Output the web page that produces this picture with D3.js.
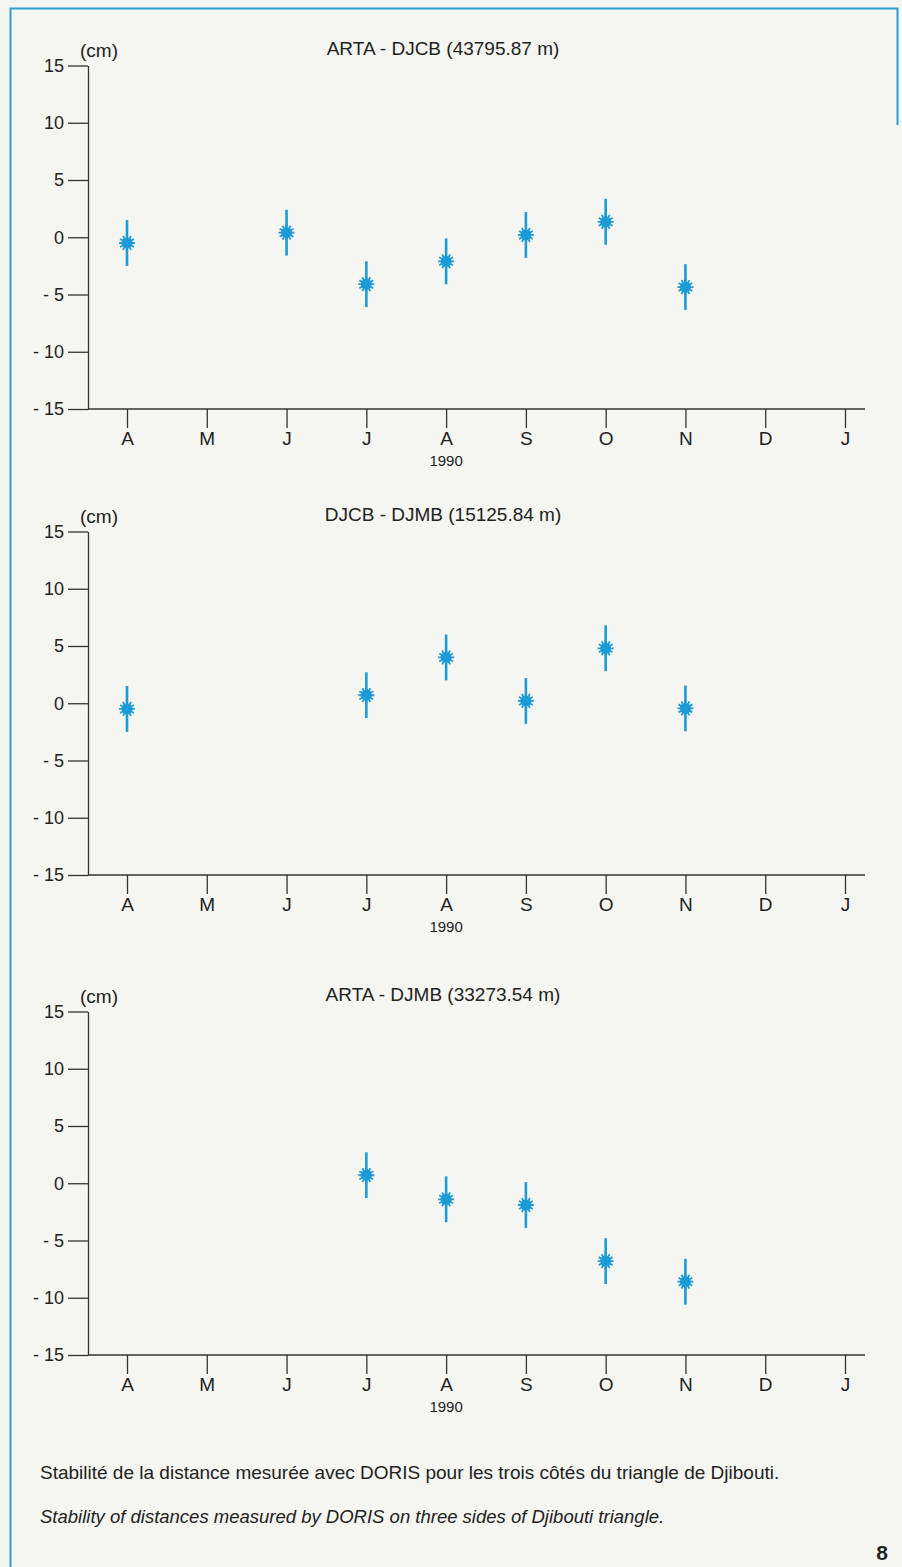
<!DOCTYPE html>
<html>
<head>
<meta charset="utf-8">
<script src="https://cdn.jsdelivr.net/npm/d3@7"></script>
<style>
  body { margin: 0; background: #f5f5f1; }
  svg { display: block; }
  text { font-family: "Liberation Sans", Arial, Helvetica, sans-serif; fill: #222; }
  .axis path, .axis line { stroke: #333; stroke-width: 1.3; }
</style>
</head>
<body>
<svg></svg>
<script>
// page size
let width = 902
let height = 1567

// month labels along the x axis
let months = ["A", "M", "J", "J", "A", "S", "O", "N", "D", "J"]
let yTicks = [15, 10, 5, 0, -5, -10, -15]

// panel titles
let titles = ["ARTA - DJCB (43795.87 m)", "DJCB - DJMB (15125.84 m)", "ARTA - DJMB (33273.54 m)"]

// ARTA - DJCB
let artaDjcbMonth = [0, 2, 3, 4, 5, 6, 7]
let artaDjcbValue = [-0.5, 0.4, -4.1, -2.1, 0.2, 1.35, -4.35]
let artaDjcbError = [2, 2, 2, 2, 2, 2, 2]

// DJCB - DJMB
let djcbDjmbMonth = [0, 3, 4, 5, 6, 7]
let djcbDjmbValue = [-0.5, 0.7, 4.0, 0.2, 4.8, -0.45]
let djcbDjmbError = [2, 2, 2, 2, 2, 2]

// ARTA - DJMB
let artaDjmbMonth = [3, 4, 5, 6, 7]
let artaDjmbValue = [0.7, -1.4, -1.9, -6.8, -8.6]
let artaDjmbError = [2, 2, 2, 2, 2]

let blue = "#1c9bd6"

// vertical placement of each panel (top = +15, bottom = -15)
let panelTops = [65.5, 531.5, 1011.5]
let panelHeight = 343.5

let svg = d3.select("svg")
	.attr("width", width)
	.attr("height", height)

// page frame (blue rule)
svg.append("path")
	.attr("d", "M10.5,1567 L10.5,8.5 L897.5,8.5 L897.5,125")
	.attr("fill", "none")
	.attr("stroke", "#2a9fd4")
	.attr("stroke-width", 2)

let xScale = d3.scaleLinear()
	.domain([0, months.length - 1])
	.range([127, 845])

// 12-spoke star marker
function starPath(r) {
	let p = ""
	for (let i = 0; i < 12; i++) {
		let a = i * Math.PI / 6
		p += `M0,0L${(r * Math.cos(a)).toFixed(2)},${(r * Math.sin(a)).toFixed(2)}`
	}
	return p
}

function drawPanel(idx, mIdx, vals, errs) {
	let top = panelTops[idx]
	let bottom = top + panelHeight
	let yScale = d3.scaleLinear().domain([-15, 15]).range([bottom, top])
	let g = svg.append("g")

	// y axis
	let axisY = d3.axisLeft(yScale)
		.tickValues(yTicks)
		.tickSize(20)
		.tickSizeOuter(0)
		.tickPadding(4)
		.tickFormat(d => d < 0 ? "- " + Math.abs(d) : d)
	g.append("g")
		.attr("class", "axis")
		.attr("transform", "translate(88,0)")
		.call(axisY)
		.call(s => s.selectAll("text").style("font-size", "18px").attr("fill", "#222"))

	// x axis
	let axisX = d3.axisBottom(xScale)
		.tickValues(d3.range(months.length))
		.tickSize(19)
		.tickSizeOuter(0)
		.tickPadding(4)
		.tickFormat(i => months[i])
	g.append("g")
		.attr("class", "axis")
		.attr("transform", `translate(0,${bottom})`)
		.call(axisX)
		.call(s => s.select(".domain").remove())
		.call(s => s.selectAll("text").style("font-size", "19px").attr("fill", "#222"))
	g.append("line")
		.attr("x1", 88).attr("x2", 865)
		.attr("y1", bottom).attr("y2", bottom)
		.attr("stroke", "#333")
		.attr("stroke-width", 1.3)

	g.append("text")
		.attr("x", xScale(4))
		.attr("y", bottom + 57)
		.attr("text-anchor", "middle")
		.style("font-size", "15px")
		.text("1990")

	// labels
	g.append("text")
		.attr("x", 80)
		.attr("y", top - 9)
		.style("font-size", "19px")
		.text("(cm)")
	g.append("text")
		.attr("x", 443)
		.attr("y", top - 11)
		.attr("text-anchor", "middle")
		.style("font-size", "19px")
		.text(titles[idx])

	let data = mIdx.map((m, i) => ({m: m, v: vals[i], e: errs[i]}))

	// error bars
	g.selectAll(".err")
		.data(data)
		.enter()
		.append("line")
			.attr("class", "err")
			.attr("x1", d => xScale(d.m))
			.attr("x2", d => xScale(d.m))
			.attr("y1", d => yScale(d.v + d.e))
			.attr("y2", d => yScale(d.v - d.e))
			.attr("stroke", blue)
			.attr("stroke-width", 2.6)

	// star markers
	let marks = g.selectAll(".mark")
		.data(data)
		.enter()
		.append("g")
			.attr("class", "mark")
			.attr("transform", d => `translate(${xScale(d.m)},${yScale(d.v)})`)
	marks.append("circle")
		.attr("r", 5.5)
		.attr("fill", blue)
	marks.append("path")
		.attr("d", starPath(8))
		.attr("stroke", blue)
		.attr("stroke-width", 1.8)
}

drawPanel(0, artaDjcbMonth, artaDjcbValue, artaDjcbError)
drawPanel(1, djcbDjmbMonth, djcbDjmbValue, djcbDjmbError)
drawPanel(2, artaDjmbMonth, artaDjmbValue, artaDjmbError)

// caption
svg.append("text")
	.attr("x", 40)
	.attr("y", 1479)
	.style("font-size", "19px")
	.text("Stabilité de la distance mesurée avec DORIS pour les trois côtés du triangle de Djibouti.")
svg.append("text")
	.attr("x", 40)
	.attr("y", 1523)
	.style("font-size", "18.5px")
	.style("font-style", "italic")
	.text("Stability of distances measured by DORIS on three sides of Djibouti triangle.")

svg.append("text")
	.attr("x", 888)
	.attr("y", 1560)
	.attr("text-anchor", "end")
	.style("font-size", "21px")
	.style("font-weight", "bold")
	.text("8")
</script>
</body>
</html>
